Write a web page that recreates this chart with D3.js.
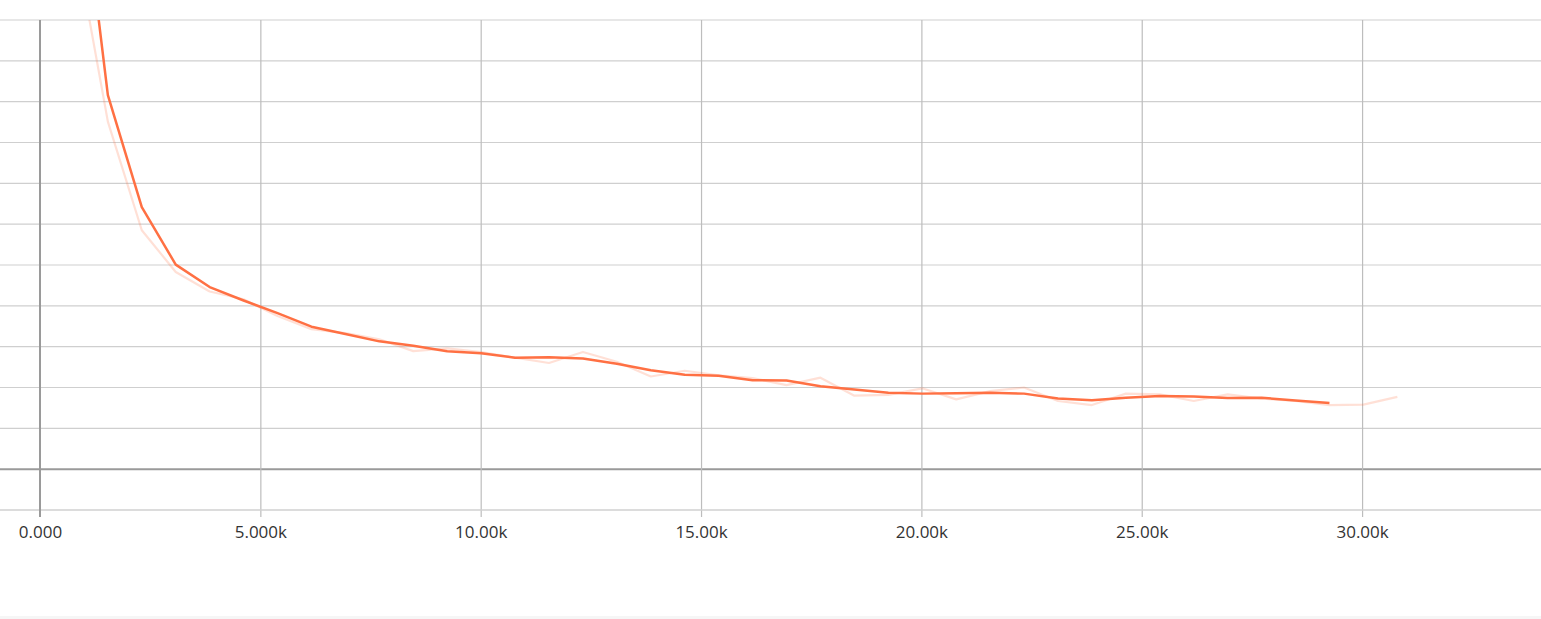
<!DOCTYPE html>
<html>
<head>
<meta charset="utf-8">
<script src="https://cdn.jsdelivr.net/npm/d3@7"></script>
<style>
  body { margin: 0; background: #fff; }
  svg { display: block; }
  .tick text { font-family: "Open Sans", sans-serif; font-size: 17px; fill: #333; }
</style>
</head>
<body>
<div id="chart"></div>
<script>
const width = 1541;
const height = 619;

// steps (one log entry every 770 steps)
const steps = [0, 770, 1540, 2310, 3080, 3850, 4620, 5390, 6160, 6930, 7700,
  8470, 9240, 10010, 10780, 11550, 12320, 13090, 13860, 14630, 15400,
  16170, 16940, 17710, 18480, 19250, 20020, 20790, 21560, 22330, 23100,
  23870, 24640, 25410, 26180, 26950, 27720, 28490, 29260, 30030, 30800];

// raw values (faint line)
const rawValues = [25.0, 13.1, 8.51, 5.85, 4.83, 4.35, 4.16, 3.75, 3.43, 3.33, 3.18,
  2.89, 2.96, 2.87, 2.73, 2.60, 2.87, 2.63, 2.27, 2.41, 2.30,
  2.23, 2.06, 2.24, 1.80, 1.82, 1.98, 1.71, 1.91, 2.00, 1.67,
  1.57, 1.85, 1.83, 1.67, 1.83, 1.73, 1.67, 1.57, 1.58, 1.77];

// smoothed values (ends at step 29260)
const smoothValues = [25.0, 16.0, 9.16, 6.42, 5.01, 4.46, 4.13, 3.82, 3.49, 3.31, 3.13,
  3.02, 2.89, 2.84, 2.73, 2.74, 2.71, 2.58, 2.42, 2.31, 2.29,
  2.18, 2.17, 2.03, 1.95, 1.87, 1.85, 1.86, 1.87, 1.85, 1.73,
  1.69, 1.75, 1.79, 1.78, 1.74, 1.75, 1.68, 1.62];

const xTicks = [0, 5000, 10000, 15000, 20000, 25000, 30000];
const yGrid = [0, 1, 2, 3, 4, 5, 6, 7, 8, 9, 10, 11];

const svg = d3.select("#chart")
  .append("svg")
  .attr("width", width)
  .attr("height", height);

const x = d3.scaleLinear().domain([0, 34060]).range([40, width]);
const y = d3.scaleLinear().domain([-1, 11]).range([510, 20]);

// light strip at the bottom
svg.append("rect")
  .attr("x", 0).attr("y", 616)
  .attr("width", width).attr("height", 3)
  .attr("fill", "#f6f6f6");

// horizontal grid
svg.append("g")
  .selectAll("line")
  .data(yGrid)
  .enter()
  .append("line")
  .attr("x1", 0)
  .attr("x2", width)
  .attr("y1", d => y(d))
  .attr("y2", d => y(d))
  .attr("stroke", d => d === 0 ? "#9a9a9a" : "#cfcfcf")
  .attr("stroke-width", d => d === 0 ? 2 : 1.2);

// x axis with full height grid
const xAxis = d3.axisBottom(x)
  .tickValues(xTicks)
  .tickFormat(d3.format(".4s"))
  .tickSize(-(y(-1) - y(11)))
  .tickPadding(14);

const gx = svg.append("g")
  .attr("transform", "translate(0," + y(-1) + ")")
  .call(xAxis);

gx.select(".domain").remove();
gx.selectAll(".tick line")
  .attr("stroke", "#bdbdbd")
  .attr("stroke-width", 1.2)
  .attr("y2", 7)
  .attr("y1", -(y(-1) - y(11)));
gx.selectAll(".tick").filter(d => d === 0).select("line").attr("stroke", "none");
gx.selectAll(".tick text").attr("dy", "0.71em").attr("y", 16);

// bottom line
svg.append("line")
  .attr("x1", 0).attr("x2", width)
  .attr("y1", y(-1)).attr("y2", y(-1))
  .attr("stroke", "#d0d0d0")
  .attr("stroke-width", 1.5);

// y axis line at step 0
svg.append("line")
  .attr("x1", x(0)).attr("x2", x(0))
  .attr("y1", y(11)).attr("y2", y(-1) + 7)
  .attr("stroke", "#9a9a9a")
  .attr("stroke-width", 2);

svg.append("defs").append("clipPath")
  .attr("id", "plot")
  .append("rect")
  .attr("x", x(0)).attr("y", y(11))
  .attr("width", width - x(0)).attr("height", y(-1) - y(11));

const line = d3.line()
  .x(d => x(d[0]))
  .y(d => y(d[1]));

const plot = svg.append("g").attr("clip-path", "url(#plot)");

plot.append("path")
  .datum(steps.map((s, i) => [s, rawValues[i]]))
  .attr("fill", "none")
  .attr("stroke", "#ff7043")
  .attr("stroke-opacity", 0.22)
  .attr("stroke-width", 2.2)
  .attr("stroke-linejoin", "round")
  .attr("d", line);

plot.append("path")
  .datum(smoothValues.map((v, i) => [steps[i], v]))
  .attr("fill", "none")
  .attr("stroke", "#ff7043")
  .attr("stroke-width", 2.5)
  .attr("stroke-linejoin", "round")
  .attr("d", line);
</script>
</body>
</html>
